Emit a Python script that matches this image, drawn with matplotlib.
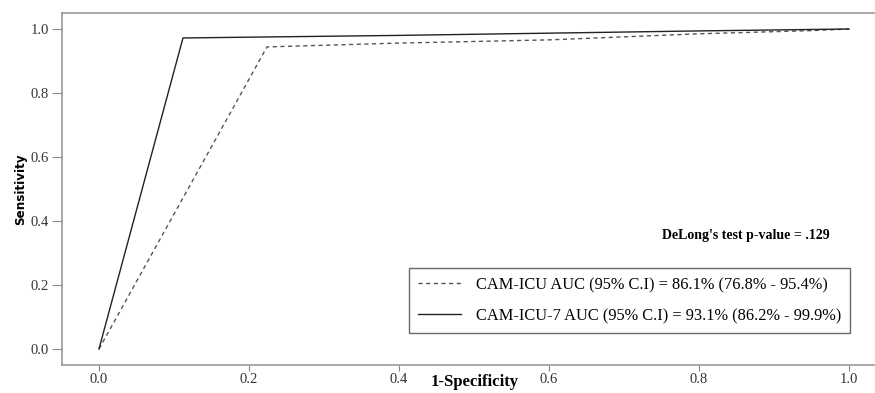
import matplotlib
matplotlib.use("Agg")
import matplotlib.pyplot as plt

# ROC curve points
fpr_cam = [0.0, 0.224, 0.4, 0.6, 0.8, 0.95, 1.0]
tpr_cam = [0.0, 0.944, 0.956, 0.966, 0.985, 0.995, 1.0]
fpr_cam7 = [0.0, 0.112, 0.4, 0.6, 0.8, 1.0]
tpr_cam7 = [0.0, 0.972, 0.980, 0.987, 0.994, 1.0]
labels = ["CAM-ICU AUC (95% C.I) = 86.1% (76.8% - 95.4%)",
          "CAM-ICU-7 AUC (95% C.I) = 93.1% (86.2% - 99.9%)"]
ticks = [0.0, 0.2, 0.4, 0.6, 0.8, 1.0]

plt.rcParams['font.family'] = ['Liberation Serif', 'DejaVu Serif']

fig = plt.figure(figsize=(8.75, 3.93), dpi=100)
ax = fig.add_axes([62/875, 28/393, 813/875, 352/393])

ax.plot(fpr_cam, tpr_cam, color='#555555', lw=1.0, ls=(0, (3, 2.5)), label=labels[0])
ax.plot(fpr_cam7, tpr_cam7, color='#222222', lw=1.0, label=labels[1])

ax.set_xlim(-0.0493, 1.0347)
ax.set_ylim(-0.05, 1.05)
ax.set_xticks(ticks)
ax.set_yticks(ticks)
ax.set_xticklabels(["%.1f" % t for t in ticks])
ax.set_yticklabels(["%.1f" % t for t in ticks])
ax.tick_params(labelsize=10.5, colors='#333333', length=4, color='#888888')
ax.tick_params(axis='x', pad=1.5)
ax.tick_params(axis='y', pad=2.5, length=7)

for s in ['left', 'top', 'bottom']:
    ax.spines[s].set_color('#999999')
    ax.spines[s].set_linewidth(1.2)
ax.spines['right'].set_visible(False)

ax.set_xlabel("1-Specificity", fontsize=12, fontweight='bold')
ax.xaxis.set_label_coords(0.508, -0.026)
ax.set_ylabel("Sensitivity", fontsize=9.5, fontweight='bold',
              family=['DejaVu Sans'], fontstretch='condensed')
ax.yaxis.set_label_coords(-0.043, 0.5)

ax.text(0.863, 0.355, "DeLong's test p-value = .129", fontsize=10,
        fontweight='bold', ha='center', va='center')

leg = ax.legend(loc='lower right', bbox_to_anchor=(0.969, 0.091), fontsize=11.8,
                frameon=True, fancybox=False, edgecolor='#444444',
                handlelength=2.6, borderpad=0.55, labelspacing=0.9,
                handletextpad=0.9, borderaxespad=0)
leg.get_frame().set_linewidth(1.0)

fig.savefig("out.png", dpi=100)
